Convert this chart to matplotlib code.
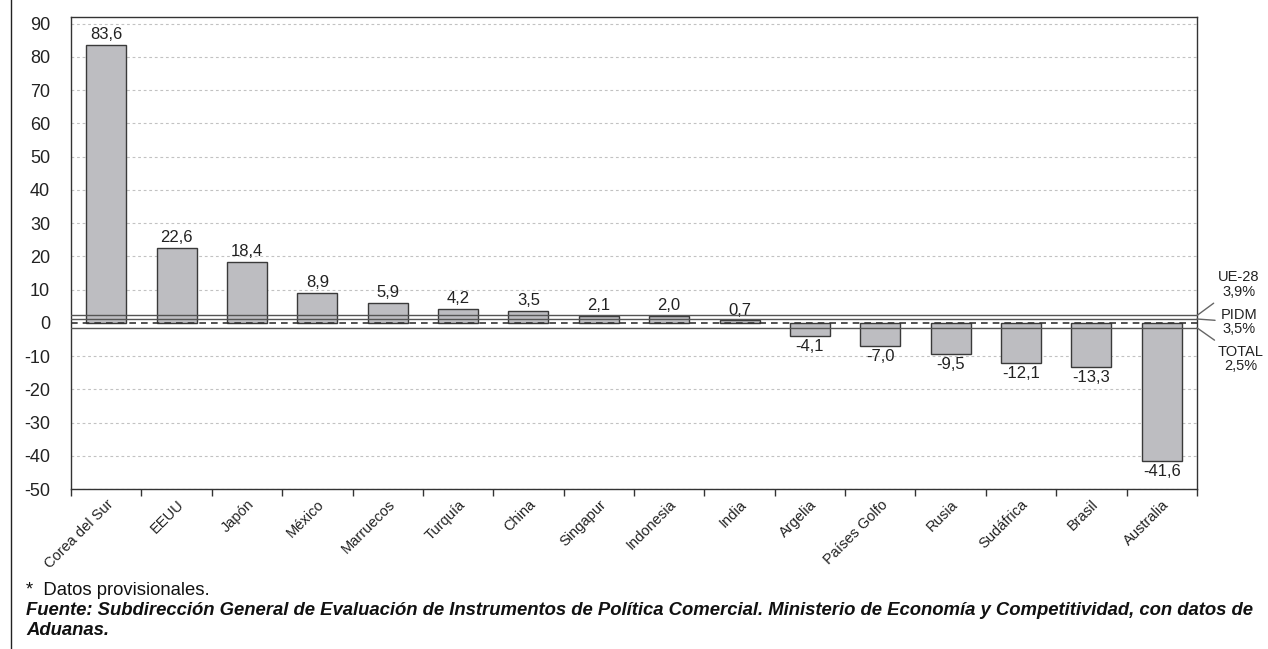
import matplotlib
matplotlib.use("Agg")
import matplotlib.pyplot as plt
import numpy as np
from matplotlib.lines import Line2D

plt.rcParams['font.family'] = ['Liberation Sans', 'DejaVu Sans']

countries = ["Corea del Sur", "EEUU", "Japón", "México", "Marruecos", "Turquía",
             "China", "Singapur", "Indonesia", "India", "Argelia", "Países Golfo",
             "Rusia", "Sudáfrica", "Brasil", "Australia"]
growth = [83.6, 22.6, 18.4, 8.9, 5.9, 4.2, 3.5, 2.1, 2.0, 0.7,
          -4.1, -7.0, -9.5, -12.1, -13.3, -41.6]

ref_names = ["UE-28", "PIDM", "TOTAL"]
ref_rates = [3.9, 3.5, 2.5]

y_ticks = list(range(-50, 91, 10))

fig = plt.figure(figsize=(12.68, 6.49), dpi=100)
ax = fig.add_axes([0.056, 0.2465, 0.888, 0.7275])

x = np.arange(len(countries))
ax.bar(x, growth, width=0.57, color="#bdbdc1", edgecolor="#3a3a3a",
       linewidth=1.0, zorder=3)

for xi, v in zip(x, growth):
    lbl = f"{v:.1f}".replace(".", ",")
    if v >= 0:
        ax.annotate(lbl, (xi, v), xytext=(0, 2), textcoords="offset points",
                    ha="center", va="bottom", fontsize=12, color="#222222")
    else:
        ax.annotate(lbl, (xi, v), xytext=(0, -2), textcoords="offset points",
                    ha="center", va="top", fontsize=12, color="#222222")

ax.set_xlim(-0.5, len(countries) - 0.5)
ax.set_ylim(-50, 92)
ax.set_yticks(y_ticks)
ax.set_yticklabels([str(t) for t in y_ticks], fontsize=13, color="#222222")
ax.tick_params(axis="y", length=0, pad=15)

# category boundaries carry the tick marks, names sit under the bars
ax.set_xticks(np.arange(len(countries) + 1) - 0.5)
ax.set_xticklabels([])
ax.tick_params(axis="x", which="major", length=5, width=1, color="#333333", direction="out")
ax.set_xticks(x, minor=True)
ax.set_xticklabels(countries, minor=True, rotation=45, ha="right",
                   rotation_mode="anchor", fontsize=10.5, color="#222222")
ax.tick_params(axis="x", which="minor", length=0, pad=6)

for t in y_ticks:
    if t != 0:
        ax.axhline(t, color="#c2c2c2", lw=0.8, ls=(0, (2.5, 2.5)), zorder=1)
ax.axhline(0, color="#333333", lw=1.2, ls=(0, (4, 3)), zorder=4)

for s in ax.spines.values():
    s.set_color("#333333")
    s.set_linewidth(1.0)

# reference growth rates on their own (hidden) scale
ax2 = ax.twinx()
ax2.set_ylim(-15.8, 37.8)
ax2.axis("off")
offsets = [(42, 31), (42, -3), (44, -31)]
for name, r, off in zip(ref_names, ref_rates, offsets):
    ax2.axhline(r, color="#555555", lw=1.0, zorder=2)
    ax2.annotate(f"{name}\n{str(r).replace('.', ',')}%", xy=(1.0, r),
                 xycoords=("axes fraction", "data"), xytext=off,
                 textcoords="offset pixels", ha="center", va="center",
                 fontsize=10.5, color="#222222", linespacing=1.05,
                 annotation_clip=False,
                 arrowprops=dict(arrowstyle="-", color="#666666", lw=1.0,
                                 shrinkA=2, shrinkB=0))

fig.add_artist(Line2D([0.0087, 0.0087], [0, 1], color="#222222", lw=1.0,
                      transform=fig.transFigure))

fig.text(0.0205, 0.0832, "*  Datos provisionales.", fontsize=13.3, color="#111111",
         va="baseline")
fig.text(0.0205, 0.0524,
         "Fuente: Subdirección General de Evaluación de Instrumentos de Política "
         "Comercial. Ministerio de Economía y Competitividad, con datos de",
         fontsize=13.3, fontweight="bold", fontstyle="italic", color="#111111",
         va="baseline")
fig.text(0.0205, 0.0216, "Aduanas.", fontsize=13.3, fontweight="bold",
         fontstyle="italic", color="#111111", va="baseline")

fig.savefig("out.png", dpi=100)
